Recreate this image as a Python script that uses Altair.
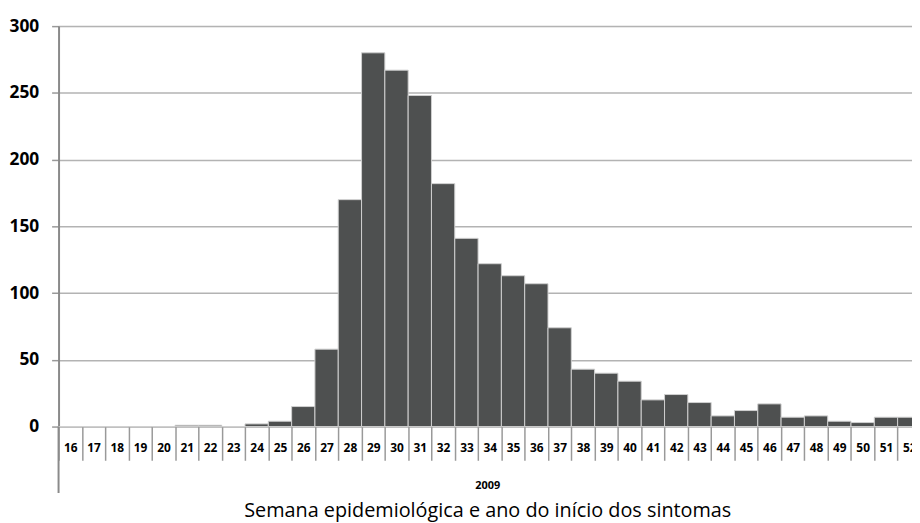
import altair as alt
import pandas as pd

weeks = [str(w) for w in range(16, 53)]
cases = [0, 0, 0, 0, 0, 1, 1, 0, 2, 4, 15, 58, 170, 280, 267, 248, 182, 141, 122, 113,
         107, 74, 43, 40, 34, 20, 24, 18, 8, 12, 17, 7, 8, 4, 3, 7, 7]
y_ticks = [0, 50, 100, 150, 200, 250, 300]
year_label = ["2009"]
x_title = ["Semana epidemiológica e ano do início dos sintomas"]

df = pd.DataFrame({"semana": weeks, "casos": cases})

FONT = "Open Sans"
W = 861
H = 404
BAND_RANGE = 870

x_scale = alt.Scale(domain=weeks, range=[0, BAND_RANGE], paddingInner=0, paddingOuter=0)

bars = alt.Chart(df).mark_bar(
    fill="#4e5050", stroke="#cfcfcf", strokeWidth=1
).encode(
    x=alt.X("semana:N", sort=weeks, scale=x_scale,
            axis=alt.Axis(title=None, labelAngle=0, labelFont=FONT, labelFontSize=12,
                          labelFontWeight="bold", labelColor="#000000",
                          tickSize=34, tickColor="#999999", tickWidth=1.5,
                          tickOffset=-BAND_RANGE / 37 / 2, labelOffset=BAND_RANGE / 37 / 2,
                          labelPadding=-18, domain=False, grid=False)),
    y=alt.Y("casos:Q", scale=alt.Scale(domain=[0, 300], nice=False),
            axis=alt.Axis(title=None, values=y_ticks, labelFont=FONT, labelFontSize=17.5,
                          labelFontWeight="bold", labelColor="#000000",
                          tickSize=7, tickColor="#999999", tickWidth=1.5,
                          labelPadding=13, domainColor="#8a8a8a", domainWidth=2,
                          grid=True, gridColor="#b3b3b3", gridWidth=1.5)),
)

axis_ext = alt.Chart(pd.DataFrame({"a": [0]})).mark_rule(color="#8a8a8a", strokeWidth=2).encode(
    x=alt.value(0), y=alt.value(H), y2=alt.value(H + 67)
)

year = alt.Chart(pd.DataFrame({"t": year_label})).mark_text(
    font=FONT, fontSize=11, fontWeight="bold", color="#000000"
).encode(x=alt.value(BAND_RANGE / 2 - 2), y=alt.value(H + 60), text="t:N")

title = alt.Chart(pd.DataFrame({"t": x_title})).mark_text(
    font=FONT, fontSize=20, color="#000000"
).encode(x=alt.value(BAND_RANGE / 2 - 2), y=alt.value(H + 85), text="t:N")

chart = alt.layer(bars, axis_ext, year, title).properties(
    width=W, height=H,
    autosize=alt.AutoSizeParams(type="none"),
    padding={"left": 51, "top": 16, "right": 0, "bottom": 95},
).configure_view(stroke=None).configure(background="white")

chart.save("out.html", embed_options={"renderer": "svg", "actions": False})
